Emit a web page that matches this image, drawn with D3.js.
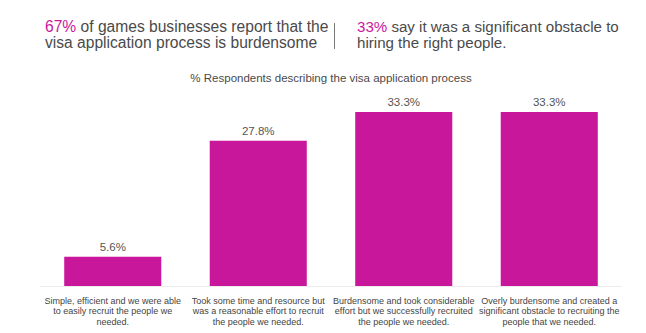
<!DOCTYPE html>
<html>
<head>
<meta charset="utf-8">
<script src="https://cdn.jsdelivr.net/npm/d3@7"></script>
<style>
  html, body { margin: 0; padding: 0; background: #fff; }
  svg { display: block; font-family: "Liberation Sans", Arial, Helvetica, sans-serif; }
</style>
</head>
<body>
<svg id="chart" width="646" height="333"></svg>
<script>
// Survey responses describing the visa application process
const categories = [
  "Simple, efficient and we were able|to easily recruit the people we|needed.",
  "Took some time and resource but|was a reasonable effort to recruit|the people we needed.",
  "Burdensome and took considerable|effort but we successfully recruited|the people we needed.",
  "Overly burdensome and created a|significant obstacle to recruiting the|people that we needed."
];
const values = [5.6, 27.8, 33.3, 33.3];
const valueLabels = ["5.6%", "27.8%", "33.3%", "33.3%"];

const headlineLeft = [["67%", " of games businesses report that the"], ["", "visa application process is burdensome"]];
const headlineRight = [["33%", " say it was a significant obstacle to"], ["", "hiring the right people."]];
const subtitle = "% Respondents describing the visa application process";

const accent = "#c9179b";
const textGray = "#4a4a4a";

const svg = d3.select("#chart");

const x = d3.scaleBand()
  .domain(d3.range(categories.length))
  .range([40, 622])
  .paddingInner(0.333)
  .paddingOuter(0.1665);

const y = d3.scaleLinear()
  .domain([0, 33.3])
  .range([286, 112]);

// Headline blocks
function headline(lines, x0, size) {
  const t = svg.append("text")
    .attr("x", x0)
    .attr("y", 32)
    .attr("font-size", size)
    .attr("fill", textGray);
  lines.forEach((ln, i) => {
    const first = t.append("tspan").attr("x", x0).attr("dy", i === 0 ? 0 : 16);
    if (ln[0]) {
      first.attr("fill", accent).text(ln[0]);
      t.append("tspan").text(ln[1]);
    } else {
      first.text(ln[1]);
    }
  });
}
headline(headlineLeft, 45, 15.6);
headline(headlineRight, 357, 15.1);

svg.append("line")
  .attr("x1", 334.5).attr("x2", 334.5)
  .attr("y1", 23).attr("y2", 49)
  .attr("stroke", "#555").attr("stroke-width", 0.8);

svg.append("text")
  .attr("x", 331).attr("y", 82)
  .attr("text-anchor", "middle")
  .attr("font-size", 11.5)
  .attr("fill", textGray)
  .text(subtitle);

// Baseline
svg.append("line")
  .attr("x1", 40).attr("x2", 622)
  .attr("y1", y(0) + 0.5).attr("y2", y(0) + 0.5)
  .attr("stroke", "#ececec").attr("stroke-width", 1);

// Bars
svg.selectAll("rect.bar")
  .data(values)
  .join("rect")
  .attr("class", "bar")
  .attr("x", (d, i) => x(i))
  .attr("width", x.bandwidth())
  .attr("y", d => y(d))
  .attr("height", d => y(0) - y(d))
  .attr("fill", accent);

// Value labels
svg.selectAll("text.val")
  .data(values)
  .join("text")
  .attr("class", "val")
  .attr("x", (d, i) => x(i) + x.bandwidth() / 2)
  .attr("y", d => y(d) - 6)
  .attr("text-anchor", "middle")
  .attr("font-size", 11.5)
  .attr("fill", "#555")
  .text((d, i) => valueLabels[i]);

// Category labels
const cat = svg.selectAll("text.cat")
  .data(categories)
  .join("text")
  .attr("class", "cat")
  .attr("text-anchor", "middle")
  .attr("font-size", 9)
  .attr("fill", "#444")
  .attr("y", 303.5);
cat.each(function(d, i) {
  const cx = x(i) + x.bandwidth() / 2;
  d.split("|").forEach((line, j) => {
    d3.select(this).append("tspan")
      .attr("x", cx)
      .attr("dy", j === 0 ? 0 : 10.6)
      .text(line);
  });
});
</script>
</body>
</html>
